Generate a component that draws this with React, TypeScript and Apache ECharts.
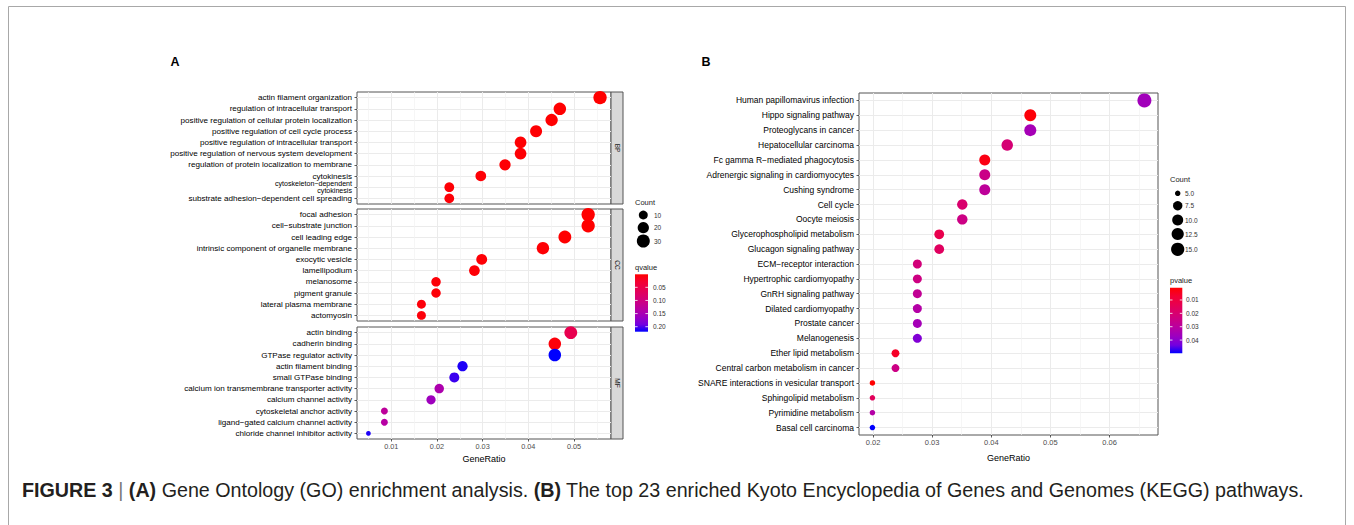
import React, { useEffect, useRef } from 'react';
import * as echarts from 'echarts';

// ---------------- DATA ----------------
const bpTerms = [
  'actin filament organization',
  'regulation of intracellular transport',
  'positive regulation of cellular protein localization',
  'positive regulation of cell cycle process',
  'positive regulation of intracellular transport',
  'positive regulation of nervous system development',
  'regulation of protein localization to membrane',
  'cytokinesis',
  'cytoskeleton\u2212dependent\ncytokinesis',
  'substrate adhesion\u2212dependent cell spreading',
];
const bpRatio = [0.0557, 0.0469, 0.0451, 0.0417, 0.0383, 0.0383, 0.0349, 0.0296, 0.0227, 0.0227];
const bpCount = [32, 27, 26, 24, 22, 22, 20, 17, 13, 13];
const bpQ = [0.0004, 0.0012, 0.0015, 0.002, 0.0018, 0.0025, 0.003, 0.0035, 0.004, 0.0045];

const ccTerms = [
  'focal adhesion',
  'cell\u2212substrate junction',
  'cell leading edge',
  'intrinsic component of organelle membrane',
  'exocytic vesicle',
  'lamellipodium',
  'melanosome',
  'pigment granule',
  'lateral plasma membrane',
  'actomyosin',
];
const ccRatio = [0.0531, 0.0531, 0.048, 0.0432, 0.0298, 0.0282, 0.0198, 0.0198, 0.0166, 0.0166];
const ccCount = [32, 32, 29, 26, 18, 17, 12, 12, 10, 10];
const ccQ = [0.0005, 0.0005, 0.001, 0.003, 0.004, 0.004, 0.005, 0.005, 0.006, 0.006];

const mfTerms = [
  'actin binding',
  'cadherin binding',
  'GTPase regulator activity',
  'actin filament binding',
  'small GTPase binding',
  'calcium ion transmembrane transporter activity',
  'calcium channel activity',
  'cytoskeletal anchor activity',
  'ligand\u2212gated calcium channel activity',
  'chloride channel inhibitor activity',
];
const mfRatio = [0.0493, 0.0458, 0.0458, 0.0256, 0.0238, 0.0205, 0.0187, 0.0085, 0.0085, 0.005];
const mfCount = [29, 27, 27, 15, 14, 12, 11, 5, 5, 3];
const mfQ = [0.055, 0.006, 0.219, 0.212, 0.205, 0.145, 0.16, 0.127, 0.135, 0.212];

const keggTerms = [
  'Human papillomavirus infection',
  'Hippo signaling pathway',
  'Proteoglycans in cancer',
  'Hepatocellular carcinoma',
  'Fc gamma R\u2212mediated phagocytosis',
  'Adrenergic signaling in cardiomyocytes',
  'Cushing syndrome',
  'Cell cycle',
  'Oocyte meiosis',
  'Glycerophospholipid metabolism',
  'Glucagon signaling pathway',
  'ECM\u2212receptor interaction',
  'Hypertrophic cardiomyopathy',
  'GnRH signaling pathway',
  'Dilated cardiomyopathy',
  'Prostate cancer',
  'Melanogenesis',
  'Ether lipid metabolism',
  'Central carbon metabolism in cancer',
  'SNARE interactions in vesicular transport',
  'Sphingolipid metabolism',
  'Pyrimidine metabolism',
  'Basal cell carcinoma',
];
const keggRatio = [0.0659, 0.0466, 0.0466, 0.0427, 0.0389, 0.0389, 0.0389, 0.0351, 0.0351, 0.0312, 0.0312,
  0.0275, 0.0275, 0.0275, 0.0275, 0.0275, 0.0275, 0.0238, 0.0238, 0.0199, 0.0199, 0.0199, 0.0199];
const keggCount = [17, 12, 12, 11, 10, 10, 10, 9, 9, 8, 8, 7, 7, 7, 7, 7, 7, 6, 6, 5, 5, 5, 5];
const keggP = [0.036, 0.0018, 0.035, 0.021, 0.0032, 0.025, 0.029, 0.0195, 0.0244, 0.0126, 0.0165,
  0.022, 0.024, 0.0278, 0.0318, 0.0352, 0.0416, 0.0057, 0.0244, 0.0008, 0.0155, 0.0318, 0.0499];

const xMajorA = [0.01, 0.02, 0.03, 0.04, 0.05];
const xMinorA = [0.005, 0.015, 0.025, 0.035, 0.045, 0.055];
const xMajorB = [0.02, 0.03, 0.04, 0.05, 0.06];
const xMinorB = [0.025, 0.035, 0.045, 0.055, 0.065];

const countLegendA = [10, 20, 30];
const countLegendB = [5, 7.5, 10, 12.5, 15];
const qTicks = [0.05, 0.1, 0.15, 0.2];
const pTicks = [0.01, 0.02, 0.03, 0.04];

const facetNames = ['BP', 'CC', 'MF'];

// red -> blue gradient interpolated in CIELAB (like ggplot2)
const palette = ['#FF0000', '#F40031', '#E8004F', '#DA006C', '#C90088', '#B500A5', '#9A00C2', '#7300E0', '#0000FF'];

// ---------------- LAYOUT ----------------
const FONT = 'Liberation Sans, Arial, Helvetica, sans-serif';
const gridsA = [
  { left: 357, top: 92, width: 254, height: 112 },
  { left: 357, top: 209, width: 254, height: 112 },
  { left: 357, top: 327, width: 254, height: 112 },
];
const gridB = { left: 859, top: 93, width: 299, height: 342 };
const xRangeA = [0.0025, 0.0581];
const xRangeB = [0.01763, 0.0682];

const allCountA = [...bpCount, ...ccCount, ...mfCount];
const cMinA = Math.min(...allCountA);
const cMaxA = Math.max(...allCountA);
const cMinB = Math.min(...keggCount);
const cMaxB = Math.max(...keggCount);
const allQ = [...bpQ, ...ccQ, ...mfQ];
const qMin = Math.min(...allQ);
const qMax = Math.max(...allQ);
const pMin = Math.min(...keggP);
const pMax = Math.max(...keggP);

const sizeA = (c: number) => 4.7 + 8.6 * Math.sqrt(Math.max(0, (c - cMinA) / (cMaxA - cMinA)));
const sizeB = (c: number) => 5.5 + 8.5 * Math.sqrt(Math.max(0, (c - cMinB) / (cMaxB - cMinB)));

function buildOption() {
  const xAxis: any[] = [];
  const yAxis: any[] = [];
  const grid: any[] = [];
  const series: any[] = [];
  const gridStyle = { show: true, borderColor: '#555', borderWidth: 1, backgroundColor: '#fff' };

  const termsA = [bpTerms, ccTerms, mfTerms];
  const ratioA = [bpRatio, ccRatio, mfRatio];
  const countA = [bpCount, ccCount, mfCount];
  const qA = [bpQ, ccQ, mfQ];

  gridsA.forEach((g) => grid.push({ ...g, ...gridStyle }));
  grid.push({ ...gridB, ...gridStyle });

  // main x axes A (0..2)
  for (let i = 0; i < 3; i++) {
    const bottom = i === 2;
    xAxis.push({
      type: 'value', gridIndex: i, min: xRangeA[0], max: xRangeA[1],
      axisLine: { show: false },
      axisTick: { show: bottom, customValues: xMajorA, length: 2.5, lineStyle: { color: '#333', width: 0.8 } },
      axisLabel: {
        show: bottom, customValues: xMajorA, fontSize: 7.3, color: '#4D4D4D', margin: 3.5, fontFamily: FONT,
        formatter: (v: number) => v.toFixed(2),
      },
      splitLine: { show: true, lineStyle: { color: '#EBEBEB', width: 1 } },
      name: bottom ? 'GeneRatio' : '',
      nameLocation: 'middle', nameGap: 15,
      nameTextStyle: { fontSize: 9, color: '#000', fontFamily: FONT },
    });
  }
  // minor x axes A (3..5)
  for (let i = 0; i < 3; i++) {
    xAxis.push({
      type: 'value', gridIndex: i, min: xRangeA[0], max: xRangeA[1], position: 'bottom',
      axisLine: { show: false },
      axisTick: { show: false, customValues: xMinorA },
      axisLabel: { show: false },
      splitLine: { show: true, lineStyle: { color: '#F2F2F2', width: 0.7 } },
    });
  }
  // main x axis B (6)
  xAxis.push({
    type: 'value', gridIndex: 3, min: xRangeB[0], max: xRangeB[1],
    axisLine: { show: false },
    axisTick: { show: true, customValues: xMajorB, length: 2.5, lineStyle: { color: '#333', width: 0.8 } },
    axisLabel: {
      show: true, customValues: xMajorB, fontSize: 7.5, color: '#4D4D4D', margin: 3.5, fontFamily: FONT,
      formatter: (v: number) => v.toFixed(2),
    },
    splitLine: { show: true, lineStyle: { color: '#EBEBEB', width: 1 } },
    name: 'GeneRatio', nameLocation: 'middle', nameGap: 18,
    nameTextStyle: { fontSize: 9, color: '#000', fontFamily: FONT },
  });
  // minor x axis B (7)
  xAxis.push({
    type: 'value', gridIndex: 3, min: xRangeB[0], max: xRangeB[1], position: 'bottom',
    axisLine: { show: false },
    axisTick: { show: false, customValues: xMinorB },
    axisLabel: { show: false },
    splitLine: { show: true, lineStyle: { color: '#F2F2F2', width: 0.7 } },
  });

  const yAxisBase = (gridIndex: number, data: string[], fontSize: number) => ({
    type: 'category', gridIndex, data, inverse: true,
    axisLine: { show: false },
    axisTick: { show: true, alignWithLabel: true, length: 2.5, lineStyle: { color: '#333', width: 0.8 } },
    axisLabel: {
      interval: 0, fontSize, color: '#000', margin: 5, fontFamily: FONT,
      formatter: (v: string) => (v.indexOf('\n') >= 0 ? v.split('\n').map((s) => `{w|${s}}`).join('\n') : v),
      rich: { w: { fontSize: 7.1, lineHeight: 7.2, fontFamily: FONT, color: '#000' } },
    },
    splitLine: { show: true, alignWithLabel: true, lineStyle: { color: '#EBEBEB', width: 1 } },
  });
  for (let i = 0; i < 3; i++) yAxis.push(yAxisBase(i, termsA[i], 8.1));
  yAxis.push(yAxisBase(3, keggTerms, 8.5));

  for (let i = 0; i < 3; i++) {
    series.push({
      type: 'scatter', xAxisIndex: i, yAxisIndex: i, silent: true,
      symbol: 'circle',
      symbolSize: (v: any[]) => sizeA(v[2]),
      itemStyle: { opacity: 1 },
      data: termsA[i].map((t, j) => [ratioA[i][j], t, countA[i][j], qA[i][j]]),
    });
  }
  series.push({
    type: 'scatter', xAxisIndex: 6, yAxisIndex: 3, silent: true,
    symbol: 'circle',
    symbolSize: (v: any[]) => sizeB(v[2]),
    itemStyle: { opacity: 1 },
    data: keggTerms.map((t, j) => [keggRatio[j], t, keggCount[j], keggP[j]]),
  });

  // ---------- graphics ----------
  const graphic: any[] = [];
  const txt = (text: string, x: number, y: number, fontSize: number, extra: any = {}) => ({
    type: 'text', silent: true,
    style: { text, x, y, fontSize, fontFamily: FONT, fill: '#1A1A1A', align: 'left', verticalAlign: 'middle', ...extra },
  });

  // outer frame
  graphic.push({ type: 'rect', silent: true, shape: { x: 8.5, y: 6.5, width: 1337, height: 620 },
    style: { fill: 'none', stroke: '#A8A8A8', lineWidth: 1 } });

  // panel letters
  graphic.push(txt('A', 175, 62, 12.5, { fontWeight: 'bold', fill: '#000', align: 'center' }));
  graphic.push(txt('B', 706, 62, 12.5, { fontWeight: 'bold', fill: '#000', align: 'center' }));

  // facet strips
  gridsA.forEach((g, i) => {
    graphic.push({ type: 'rect', silent: true, shape: { x: g.left + g.width, y: g.top, width: 12, height: g.height },
      style: { fill: '#D9D9D9', stroke: '#555', lineWidth: 1 } });
    graphic.push({ type: 'text', silent: true, x: g.left + g.width + 6, y: g.top + g.height / 2, rotation: -Math.PI / 2,
      style: { text: facetNames[i], x: 0, y: 0, fontSize: 6.5, fontFamily: FONT, fill: '#1A1A1A', align: 'center', verticalAlign: 'middle' } });
  });

  // ---- legend A ----
  graphic.push(txt('Count', 635, 202.7, 7.5));
  const keyYA = [215, 227.7, 241];
  countLegendA.forEach((c, i) => {
    graphic.push({ type: 'circle', silent: true, shape: { cx: 643.3, cy: keyYA[i], r: sizeA(c) / 2 }, style: { fill: '#000' } });
    graphic.push(txt(String(c), 654, keyYA[i], 6.5, { fill: '#333' }));
  });
  graphic.push(txt('qvalue', 635, 267.3, 7.5));
  const cbA = { x: 635, y: 274.3, w: 13, h: 57.4 };
  const gradient = { type: 'linear', x: 0, y: 0, x2: 0, y2: 1,
    colorStops: palette.map((c, i) => ({ offset: i / (palette.length - 1), color: c })) };
  graphic.push({ type: 'rect', silent: true, shape: { x: cbA.x, y: cbA.y, width: cbA.w, height: cbA.h }, style: { fill: gradient } });
  qTicks.forEach((v) => {
    const y = cbA.y + ((v - qMin) / (qMax - qMin)) * cbA.h;
    graphic.push({ type: 'line', silent: true, shape: { x1: cbA.x, y1: y, x2: cbA.x + 2.6, y2: y }, style: { stroke: '#fff', lineWidth: 0.8 } });
    graphic.push({ type: 'line', silent: true, shape: { x1: cbA.x + cbA.w - 2.6, y1: y, x2: cbA.x + cbA.w, y2: y }, style: { stroke: '#fff', lineWidth: 0.8 } });
    graphic.push(txt(v.toFixed(2), 653, y, 6.5, { fill: '#333' }));
  });

  // ---- legend B ----
  graphic.push(txt('Count', 1170, 179, 7.5));
  const keyYB = [193.3, 205.7, 220, 234, 249.3];
  countLegendB.forEach((c, i) => {
    graphic.push({ type: 'circle', silent: true, shape: { cx: 1177.7, cy: keyYB[i], r: sizeB(c) / 2 }, style: { fill: '#000' } });
    graphic.push(txt(c.toFixed(1), 1185, keyYB[i], 6.5, { fill: '#333' }));
  });
  graphic.push(txt('pvalue', 1170, 280, 7.5));
  const cbB = { x: 1170, y: 287.7, w: 12.3, h: 65.6 };
  graphic.push({ type: 'rect', silent: true, shape: { x: cbB.x, y: cbB.y, width: cbB.w, height: cbB.h }, style: { fill: gradient } });
  pTicks.forEach((v) => {
    const y = cbB.y + ((v - pMin) / (pMax - pMin)) * cbB.h;
    graphic.push({ type: 'line', silent: true, shape: { x1: cbB.x, y1: y, x2: cbB.x + 2.5, y2: y }, style: { stroke: '#fff', lineWidth: 0.8 } });
    graphic.push({ type: 'line', silent: true, shape: { x1: cbB.x + cbB.w - 2.5, y1: y, x2: cbB.x + cbB.w, y2: y }, style: { stroke: '#fff', lineWidth: 0.8 } });
    graphic.push(txt(v.toFixed(2), 1186, y, 6.5, { fill: '#333' }));
  });

  // caption
  graphic.push({
    type: 'text', silent: true,
    style: {
      x: 22, y: 490, verticalAlign: 'middle', align: 'left',
      text: '{b|FIGURE 3} {s||} {b|(A)} Gene Ontology (GO) enrichment analysis. {b|(B)} The top 23 enriched Kyoto Encyclopedia of Genes and Genomes (KEGG) pathways.',
      fontSize: 19.7, fontFamily: FONT, fill: '#231F20',
      rich: {
        b: { fontWeight: 'bold', fontSize: 19.7, fontFamily: FONT, fill: '#231F20' },
        s: { fontSize: 19.7, fontFamily: FONT, fill: '#777' },
      },
    },
  });

  return {
    animation: false,
    backgroundColor: '#fff',
    grid, xAxis, yAxis, series, graphic,
    visualMap: [
      { type: 'continuous', show: false, dimension: 3, seriesIndex: [0, 1, 2], min: qMin, max: qMax, inRange: { color: palette } },
      { type: 'continuous', show: false, dimension: 3, seriesIndex: [3], min: pMin, max: pMax, inRange: { color: palette } },
    ],
  };
}

export default function App() {
  const ref = useRef<HTMLDivElement>(null);
  useEffect(() => {
    const chart = echarts.init(ref.current as HTMLDivElement, null, { renderer: 'svg' });
    chart.setOption(buildOption() as any);
    return () => chart.dispose();
  }, []);
  return <div ref={ref} style={{ position: 'fixed', left: 0, top: 0, width: 1354, height: 525, background: '#fff' }} />;
}
